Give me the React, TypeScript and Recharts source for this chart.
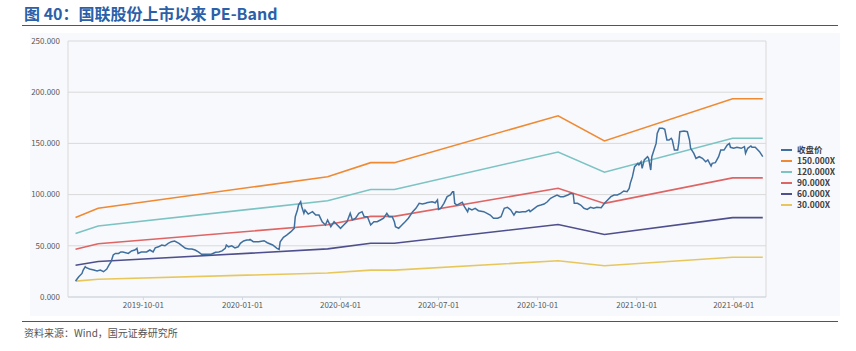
import React from 'react';
import { LineChart, Line, XAxis, YAxis, CartesianGrid } from 'recharts';

// ---------- data ----------
const priceDates = [
  "2019-07-30","2019-08-02","2019-08-05","2019-08-06","2019-08-08","2019-08-09","2019-08-12","2019-08-16","2019-08-19","2019-08-22",
  "2019-08-25","2019-08-28","2019-08-30","2019-09-01","2019-09-03","2019-09-05","2019-09-08","2019-09-10","2019-09-12","2019-09-17",
  "2019-09-20","2019-09-23","2019-09-25","2019-09-26","2019-09-29","2019-10-04","2019-10-07","2019-10-10","2019-10-12","2019-10-15",
  "2019-10-18","2019-10-21","2019-10-24","2019-10-27","2019-10-30","2019-11-03","2019-11-06","2019-11-09","2019-11-12","2019-11-15",
  "2019-11-18","2019-11-21","2019-11-24","2019-11-30","2019-12-03","2019-12-07","2019-12-10","2019-12-13","2019-12-16","2019-12-17",
  "2019-12-19","2019-12-22","2019-12-25","2019-12-28","2019-12-30","2020-01-02","2020-01-05",
  "2020-01-07","2020-01-08","2020-01-11","2020-01-16","2020-01-21","2020-01-24","2020-01-29","2020-02-02","2020-02-04","2020-02-05",
  "2020-02-08","2020-02-11","2020-02-15","2020-02-18","2020-02-19","2020-02-21","2020-02-22","2020-02-24","2020-02-25","2020-02-27",
  "2020-02-28","2020-03-02","2020-03-06","2020-03-09","2020-03-12","2020-03-15","2020-03-18","2020-03-20","2020-03-23","2020-03-26",
  "2020-03-29","2020-04-01","2020-04-04","2020-04-07","2020-04-10","2020-04-12","2020-04-15","2020-04-18","2020-04-21","2020-04-23",
  "2020-04-26","2020-04-29","2020-05-02","2020-05-05","2020-05-08","2020-05-11","2020-05-14","2020-05-16","2020-05-19","2020-05-21",
  "2020-05-22","2020-05-25","2020-05-28","2020-05-31","2020-06-03","2020-06-07","2020-06-10","2020-06-13","2020-06-16","2020-06-19",
  "2020-06-20","2020-06-25","2020-06-28","2020-06-30","2020-07-01","2020-07-03","2020-07-06","2020-07-09","2020-07-12","2020-07-14",
  "2020-07-15","2020-07-16","2020-07-18","2020-07-21","2020-07-23","2020-07-25","2020-07-28","2020-07-29","2020-08-01","2020-08-04",
  "2020-08-07","2020-08-12","2020-08-15","2020-08-18","2020-08-21","2020-08-25","2020-08-28","2020-08-31","2020-09-03","2020-09-06",
  "2020-09-09","2020-09-11","2020-09-14","2020-09-17","2020-09-20","2020-09-23","2020-09-24","2020-09-28","2020-10-01","2020-10-04",
  "2020-10-07","2020-10-10","2020-10-13","2020-10-16","2020-10-19","2020-10-22","2020-10-25","2020-10-29","2020-11-01","2020-11-03",
  "2020-11-04","2020-11-07","2020-11-10","2020-11-13","2020-11-16","2020-11-19","2020-11-22","2020-11-25","2020-11-29",
  "2020-12-02","2020-12-05","2020-12-08","2020-12-11","2020-12-14","2020-12-17","2020-12-20","2020-12-23","2020-12-25","2020-12-26",
  "2020-12-28","2020-12-30","2021-01-02","2021-01-03","2021-01-05","2021-01-06","2021-01-08","2021-01-11","2021-01-12","2021-01-14",
  "2021-01-15","2021-01-17","2021-01-19","2021-01-20","2021-01-22","2021-01-25","2021-01-27","2021-01-29","2021-01-31","2021-02-02",
  "2021-02-03","2021-02-05","2021-02-08","2021-02-09","2021-02-10","2021-02-14","2021-02-17","2021-02-19","2021-02-20","2021-02-23",
  "2021-02-25","2021-02-28","2021-03-03","2021-03-06","2021-03-08","2021-03-11","2021-03-12","2021-03-15","2021-03-18","2021-03-20",
  "2021-03-23","2021-03-26","2021-03-28","2021-03-29","2021-04-01","2021-04-04","2021-04-08","2021-04-11","2021-04-12","2021-04-14",
  "2021-04-17","2021-04-18","2021-04-21","2021-04-25","2021-04-28"
];

const closePrice = [
  15.6,19.8,23,26,29.6,28.6,27.3,26.4,25.4,26.4,
  24.7,27.3,31.2,34.5,41,42.6,42.6,44,44,42.6,
  45,45.9,47.5,42.6,44,44,45.9,44,48,49,
  50.8,50,52.4,54,54.7,52.4,50,47.5,46.9,46.9,
  45.9,44,41.7,41.7,41.7,43.6,44,45,47.5,50.8,
  49,50,48,49,52.4,54.7,55.6,
  55.6,56.3,54,54,55,53,50.8,47.5,46.5,54,
  58.3,60.5,63.8,67,78.4,85,89.8,93,88.2,81.7,
  85,81,83.3,80,80,73.5,70.3,75.2,68.7,73.5,
  70.3,67,70.3,73.5,81.7,75.2,76.9,81.7,83.3,78.4,
  78.4,70.3,73.5,73.5,75.2,76.9,81.7,78.4,78.4,73.5,
  68.7,67,70.3,73.5,76.9,83.3,86.6,91.5,90.8,91.5,
  92,93,92,94.7,85.6,86.6,91.5,98,99.6,102.8,
  102.8,91.5,89.8,91.5,92.5,88.2,83.3,86.6,85,86.6,
  84.3,83.3,81.7,80,76.9,76.9,78.4,86.6,87.6,85,
  80,83.3,82.7,83.3,83.3,85,83.3,86.6,88.9,89.8,
  90.8,93,96.4,98,99.6,98,98,99.6,101.2,100.6,
  91.5,91.5,89.8,86.6,85.6,87.6,86.6,87.6,87.2,
  91.5,94.7,98,99.6,99.6,101.2,103.5,102.8,106.1,111,
  117.5,127.3,130.5,128.9,132.1,125.7,133.8,137,135.4,124,
  137,143.5,150,159.8,164.7,164.7,163.8,153.3,153.3,155,
  153.3,143.5,143.5,150,161.4,162.1,161.4,153.3,145.2,140.3,
  135.4,137,135.4,132.1,133.8,127.9,130.5,131.2,137,143.5,
  143.5,148.4,150,146.2,145.2,146.2,145.2,146.8,140.3,145.2,
  147.5,146.2,146.2,141.9,137
];

const bandDates = ["2019-07-30","2019-08-20","2020-03-20","2020-04-29","2020-05-21","2020-10-20","2020-12-02","2021-03-31","2021-04-28"];
const pe150 = [77.6, 86.6, 117.5, 131.2, 131.2, 177.0, 152.4, 193.6, 193.6];
const pe120 = [62.1, 69.3, 94.0, 105.0, 105.0, 141.6, 121.9, 155.0, 155.0];
const pe90 = [46.6, 52.0, 70.5, 78.7, 78.7, 106.2, 91.4, 116.3, 116.3];
const pe60 = [31.0, 34.6, 47.0, 52.5, 52.5, 70.8, 61.0, 77.5, 77.5];
const pe30 = [15.5, 17.3, 23.5, 26.2, 26.2, 35.4, 30.5, 38.8, 38.8];

const xTickLabels = ["2019-10-01","2020-01-01","2020-04-01","2020-07-01","2020-10-01","2021-01-01","2021-04-01"];
const yTicks = [0, 50, 100, 150, 200, 250];
const xDomainDates = ["2019-07-23", "2021-05-01"];

const seriesNames = ["收盘价", "150.000X", "120.000X", "90.000X", "60.000X", "30.000X"];
const seriesColors = ["#3f6f9e", "#ef8a33", "#7cc3c4", "#df6464", "#4f4f8d", "#e7c75c"];

// ---------- helpers ----------
const toT = (s: string) => Date.parse(s + "T00:00:00Z");
const fmt = (t: number) => new Date(t).toISOString().slice(0, 10);
const mk = (dates: string[], vals: number[]) => dates.map((d, i) => ({ t: toT(d), v: vals[i] }));

const priceData = mk(priceDates, closePrice);
const bandSeries = [pe150, pe120, pe90, pe60, pe30].map((b) => mk(bandDates, b));

const FONT = '"Noto Sans CJK SC", "Noto Sans", sans-serif';

const LegendBox = () => (
  <div style={{ position: 'absolute', left: 781, top: 144, fontFamily: FONT, fontSize: 8.5, fontWeight: 700, color: '#404040' }}>
    {seriesNames.map((n, i) => (
      <div key={n} style={{ display: 'flex', alignItems: 'center', height: 11, overflow: 'hidden' }}>
        <div style={{ width: 11, height: 2, background: seriesColors[i], marginRight: 5 }} />
        <span style={{ lineHeight: '11px', display: 'block', height: 11 }}>{n}</span>
      </div>
    ))}
  </div>
);

export default function App() {
  return (
    <div style={{ position: 'absolute', left: 0, top: 0, width: 856, height: 351, background: '#ffffff', overflow: 'hidden' }}>
      <div style={{ position: 'absolute', left: 24, top: 3, fontFamily: FONT, fontSize: 16, fontWeight: 700, color: '#2b60a8', lineHeight: '20px', whiteSpace: 'nowrap' }}>
        图 40：国联股份上市以来 PE-Band
      </div>
      <div style={{ position: 'absolute', left: 22, top: 25, width: 816, height: 1, background: '#555' }} />
      <div style={{ position: 'absolute', left: 30, top: 33, width: 810, height: 283, background: '#f8f9fc' }} />
      <div style={{ position: 'absolute', left: 0, top: 0 }}>
        <LineChart width={856} height={351} margin={{ top: 41, right: 90, bottom: 34, left: 28 }}>
          <CartesianGrid
            stroke="#d9d9d9"
            horizontal={true}
            vertical={true}
            verticalCoordinatesGenerator={({ offset }: any) => [offset.left + offset.width]}
          />
          <XAxis
            dataKey="t"
            type="number"
            domain={[toT(xDomainDates[0]), toT(xDomainDates[1])]}
            allowDataOverflow
            ticks={xTickLabels.map(toT)}
            interval={0}
            tickFormatter={fmt}
            tick={{ fontSize: 8, fill: '#595959', fontFamily: FONT }}
            tickSize={3}
            axisLine={{ stroke: '#d0d7e5' }}
            tickLine={{ stroke: '#d0d7e5' }}
            height={20}
          />
          <YAxis
            type="number"
            domain={[0, 250]}
            ticks={yTicks}
            interval={0}
            tickFormatter={(v: number) => v.toFixed(3)}
            tick={{ fontSize: 8, fill: '#595959', fontFamily: FONT }}
            tickLine={false}
            axisLine={{ stroke: '#d9d9d9' }}
            width={40}
          />
          {bandSeries.map((d, i) => (
            <Line
              key={seriesNames[i + 1]}
              data={d}
              dataKey="v"
              name={seriesNames[i + 1]}
              stroke={seriesColors[i + 1]}
              strokeWidth={1.6}
              dot={false}
              activeDot={false}
              isAnimationActive={false}
            />
          ))}
          <Line
            data={priceData}
            dataKey="v"
            name={seriesNames[0]}
            stroke={seriesColors[0]}
            strokeWidth={1.5}
            dot={false}
            activeDot={false}
            isAnimationActive={false}
          />
        </LineChart>
      </div>
      <LegendBox />
      <div style={{ position: 'absolute', left: 22, top: 321, width: 816, height: 1, background: '#555' }} />
      <div style={{ position: 'absolute', left: 24, top: 326, fontFamily: FONT, fontSize: 10, color: '#555', lineHeight: '14px', whiteSpace: 'nowrap' }}>
        资料来源：Wind，国元证券研究所
      </div>
    </div>
  );
}
